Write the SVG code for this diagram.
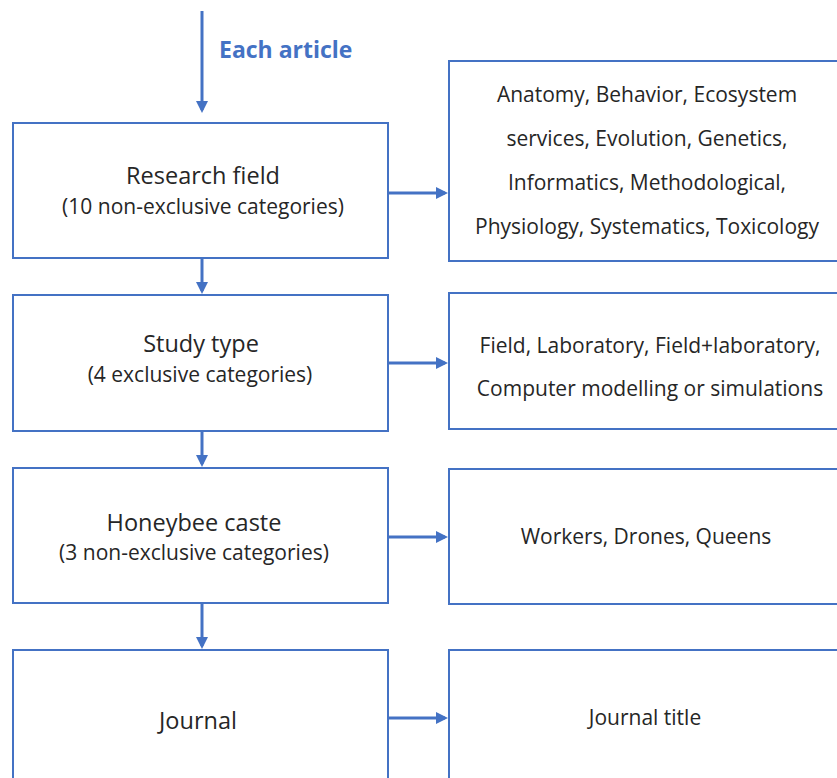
<svg xmlns="http://www.w3.org/2000/svg" width="837" height="778" viewBox="0 0 837 778">
<style>
.box{fill:#fff;stroke:#4472C4;stroke-width:2}
.t{font-family:"Open Sans","Liberation Sans",sans-serif;fill:#262626;text-anchor:middle;font-size:21px}
.h{font-size:23.5px}
.c{stroke:#4472C4;stroke-width:3;fill:none}
.lbl{font-family:"Open Sans","Liberation Sans",sans-serif;fill:#4472C4;font-weight:bold;font-size:23px}
</style>
<defs>
<marker id="ah" markerWidth="4" markerHeight="4" refX="3" refY="2" orient="auto" markerUnits="strokeWidth">
<path d="M0,0 L4,2 L0,4 Z" fill="#4472C4"/>
</marker>
</defs>
<rect width="837" height="778" fill="#fff"/>
<g id="connectors">
<line class="c" x1="202" y1="11" x2="202" y2="110" marker-end="url(#ah)"/>
<line class="c" x1="202" y1="258" x2="202" y2="291" marker-end="url(#ah)"/>
<line class="c" x1="202" y1="431" x2="202" y2="464" marker-end="url(#ah)"/>
<line class="c" x1="202" y1="603" x2="202" y2="646" marker-end="url(#ah)"/>
<line class="c" x1="387" y1="193" x2="445" y2="193" marker-end="url(#ah)"/>
<line class="c" x1="387" y1="363" x2="445" y2="363" marker-end="url(#ah)"/>
<line class="c" x1="387" y1="537" x2="445" y2="537" marker-end="url(#ah)"/>
<line class="c" x1="387" y1="718" x2="445" y2="718" marker-end="url(#ah)"/>
<text class="lbl" x="219" y="58">Each article</text>
</g>
<g id="research-field">
<rect class="box" x="13" y="123" width="375" height="135"/>
<text class="t h" x="203" y="184">Research field</text>
<text class="t" x="203" y="214">(10 non-exclusive categories)</text>
</g>
<g id="study-type">
<rect class="box" x="13" y="295" width="375" height="136"/>
<text class="t h" x="201" y="352">Study type</text>
<text class="t" x="200" y="382">(4 exclusive categories)</text>
</g>
<g id="honeybee-caste">
<rect class="box" x="13" y="468" width="375" height="135"/>
<text class="t h" x="194" y="531">Honeybee caste</text>
<text class="t" x="194" y="560">(3 non-exclusive categories)</text>
</g>
<g id="journal">
<rect class="box" x="13" y="650" width="375" height="140"/>
<text class="t h" x="198" y="729">Journal</text>
</g>
<g id="research-field-values">
<rect class="box" x="449" y="61" width="400" height="200"/>
<text class="t" x="647" y="102">Anatomy, Behavior, Ecosystem</text>
<text class="t" x="647" y="146">services, Evolution, Genetics,</text>
<text class="t" x="647" y="190">Informatics, Methodological,</text>
<text class="t" x="647" y="234">Physiology, Systematics, Toxicology</text>
</g>
<g id="study-type-values">
<rect class="box" x="449" y="293" width="400" height="136"/>
<text class="t" x="650" y="353">Field, Laboratory, Field+laboratory,</text>
<text class="t" x="650" y="396">Computer modelling or simulations</text>
</g>
<g id="caste-values">
<rect class="box" x="449" y="469" width="400" height="135"/>
<text class="t" x="646" y="544">Workers, Drones, Queens</text>
</g>
<g id="journal-values">
<rect class="box" x="449" y="650" width="400" height="140"/>
<text class="t" x="645" y="725">Journal title</text>
</g>
</svg>
